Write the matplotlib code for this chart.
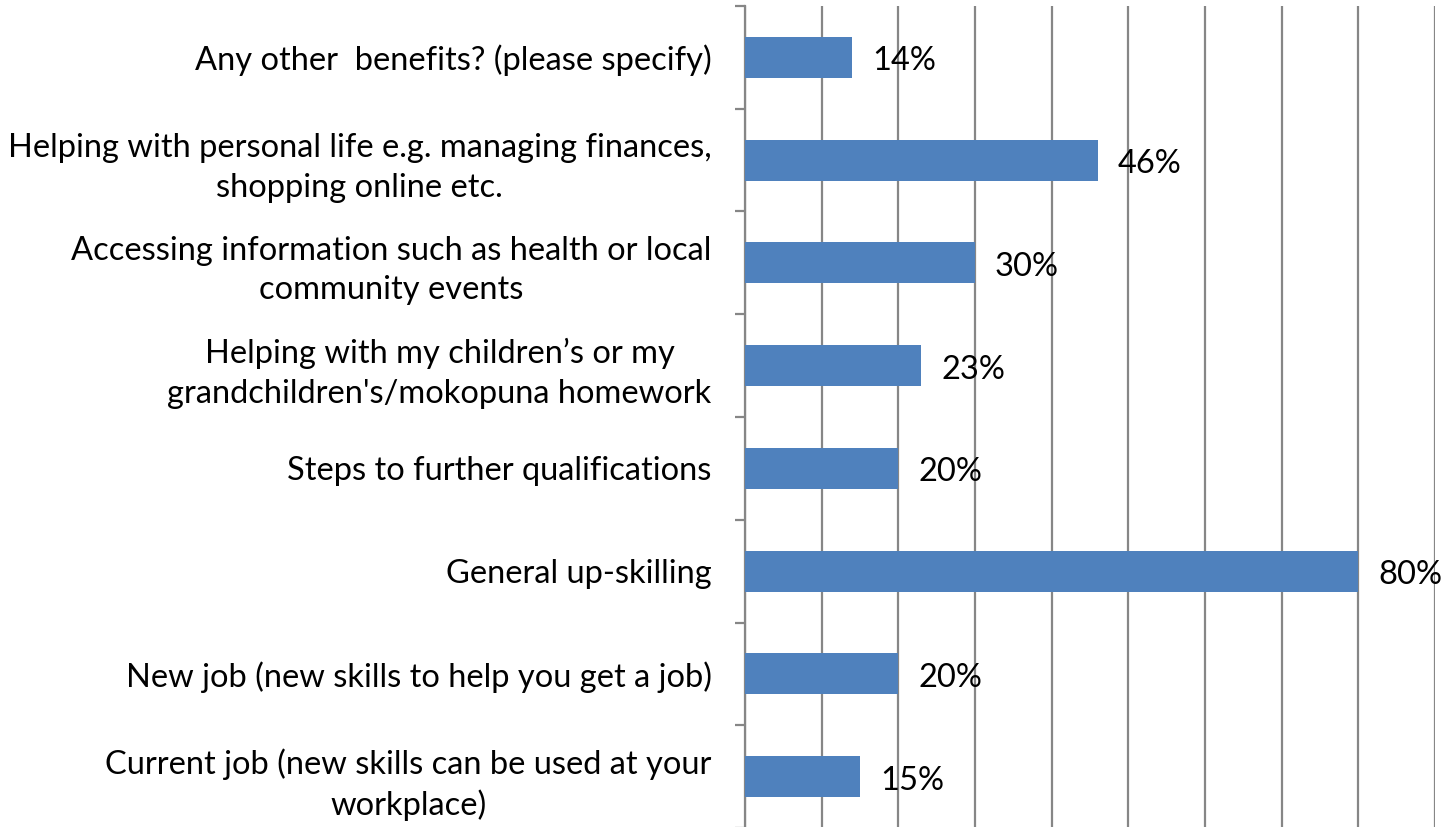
import matplotlib.pyplot as plt
import matplotlib as mpl

mpl.rcParams.update({"font.family": ["Lato", "DejaVu Sans"], "font.size": 23.5})

categories = [
    "Current job (new skills can be used at your\nworkplace)",
    "New job (new skills to help you get a job)",
    "General up-skilling",
    "Steps to further qualifications",
    "Helping with my children\u2019s or my\ngrandchildren's/mokopuna homework",
    "Accessing information such as health or local\ncommunity events",
    "Helping with personal life e.g. managing finances,\nshopping online etc.",
    "Any other  benefits? (please specify)",
]
values = [15, 20, 80, 20, 23, 30, 46, 14]

W, H = 1454, 827
fig = plt.figure(figsize=(W / 100, H / 100), dpi=100)
ax = fig.add_axes([745 / W, -1 / H, (1435 - 745) / W, (828 - 6) / H])

pos = range(len(categories))
ax.barh(pos, values, height=0.4, color="#4F81BD", zorder=3)
for p, v in zip(pos, values):
    ax.text(v + 2.6, p - 0.04, f"{v}%", va="center", ha="left", zorder=4)

ax.set_xlim(0, 90)
ax.set_ylim(-0.5, len(categories) - 0.5)
ax.set_xticks(range(0, 91, 10))
ax.set_xticklabels([])
ax.tick_params(axis="x", length=0)
ax.grid(axis="x", color="#868686", linewidth=1.6, zorder=0)

ax.set_yticks([p - 0.5 for p in pos] + [len(categories) - 0.5])
ax.set_yticklabels([])
ax.set_yticks(list(pos), minor=True)
ax.set_yticklabels(categories, minor=True, multialignment="center", linespacing=1.4)
ax.tick_params(axis="y", which="major", length=7, width=1.6, color="#868686", direction="out")
ax.tick_params(axis="y", which="minor", length=0, pad=24)

for s in ["top", "right", "bottom"]:
    ax.spines[s].set_visible(False)
ax.spines["left"].set_color("#868686")
ax.spines["left"].set_linewidth(1.6)

fig.savefig("out.png", dpi=100)
